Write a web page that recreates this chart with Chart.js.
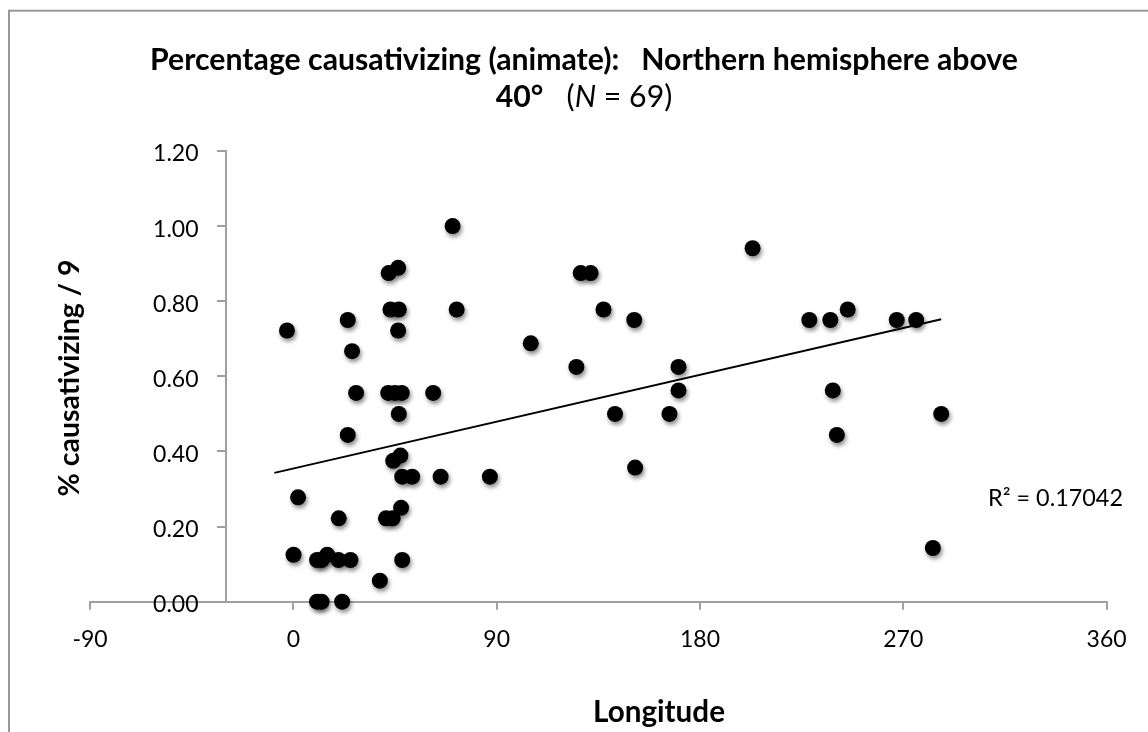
<!DOCTYPE html>
<html><head><meta charset="utf-8">
<script src="https://cdn.jsdelivr.net/npm/chart.js@4.4.0/dist/chart.umd.min.js"></script>
<style>html,body{margin:0;padding:0;background:#fff}#wrap{width:1148px;height:732px;position:relative}</style>
</head><body><div id="wrap"><canvas id="c" width="1148" height="732"></canvas></div>
<script>
// ---- data ----
const longitude = [
  -2.8, 0.1, 2.1, 10.5, 12.5, 21.6, 10.5, 12.5, 15, 20, 25.3, 20.1, 24.1, 24.1, 26.0, 27.8,
  38.3, 41, 44, 47.7, 48.2, 44.2, 47.4, 48.2, 52.6, 46.7, 42, 45, 48, 46.4, 43, 46.7,
  42.2, 46.4, 61.9, 65.2, 72.3, 70.5, 87, 105.1, 125.3, 127.2, 131.6, 137.3, 142.4, 150.9,
  151.3, 166.5, 170.5, 170.5, 203.3, 228.4, 237.7, 238.8, 240.6, 245.4, 267.1, 275.7, 283.1, 286.8
];
const pctCausativizing = [
  0.722, 0.125, 0.278, 0, 0, 0, 0.111, 0.111, 0.125, 0.111, 0.111, 0.222, 0.444, 0.75, 0.667, 0.556,
  0.056, 0.222, 0.222, 0.25, 0.111, 0.375, 0.389, 0.333, 0.333, 0.5, 0.556, 0.556, 0.556, 0.722, 0.778, 0.778,
  0.875, 0.889, 0.556, 0.333, 0.778, 1.0, 0.333, 0.688, 0.625, 0.875, 0.875, 0.778, 0.5, 0.75,
  0.357, 0.5, 0.625, 0.5625, 0.941, 0.75, 0.75, 0.5625, 0.444, 0.778, 0.75, 0.75, 0.143, 0.5
];
const trendX = [-8.4, 286.8];
const trendY = [0.343, 0.752];
const xTickValues = [-90, 0, 90, 180, 270, 360];
const yTickValues = [0, 0.2, 0.4, 0.6, 0.8, 1.0, 1.2];
const yAxisCrossesAt = -30;
const titleLine1 = "Percentage causativizing (animate):   Northern hemisphere above";
const titleLine2Bold = "40°";
const titleLine2Rest = ["   (", "N", " = 69)"];
const xAxisTitle = "Longitude";
const yAxisTitle = "% causativizing / 9";
const rSquaredLabel = "R² = 0.17042";

const FONT = "Lato, 'Open Sans', sans-serif";
const AXIS_GRAY = '#a0a0a0';
const TICK_FONT_SIZE = 23;

function fitFont(ctx, text, weight, style, target) {
  ctx.font = `${style} ${weight} 20px ${FONT}`;
  const w = ctx.measureText(text).width;
  return 20 * target / w;
}

const deco = {
  id: 'deco',
  beforeDraw(chart) {
    const ctx = chart.ctx;
    ctx.save();
    ctx.fillStyle = '#fff';
    ctx.fillRect(0, 0, chart.width, chart.height);
    ctx.strokeStyle = '#999';
    ctx.lineWidth = 2;
    ctx.strokeRect(9, 10.7, chart.width + 40, chart.height + 40);
    ctx.restore();
  },
  beforeDatasetDraw(chart, args) {
    if (args.index === 1) {
      const ctx = chart.ctx;
      ctx.save();
      ctx.shadowColor = 'rgba(0,0,0,0.45)';
      ctx.shadowBlur = 4;
      ctx.shadowOffsetX = 1.5;
      ctx.shadowOffsetY = 3;
    }
  },
  afterDatasetDraw(chart, args) {
    if (args.index === 1) chart.ctx.restore();
  },
  afterDraw(chart) {
    const ctx = chart.ctx;
    ctx.save();
    ctx.fillStyle = '#000';
    ctx.textBaseline = 'middle';
    // y tick labels (axis crosses inside the plot, so labels are placed beside the crossing line)
    const ys = chart.scales.y, xs = chart.scales.x;
    const axisX = xs.getPixelForValue(yAxisCrossesAt);
    ctx.font = `normal ${TICK_FONT_SIZE}px ${FONT}`;
    ctx.textAlign = 'right';
    yTickValues.forEach(v => {
      ctx.fillText(v.toFixed(2), axisX - 27, ys.getPixelForValue(v) + 3);
    });
    // title line 1
    const cx = 584;
    const s1 = fitFont(ctx, titleLine1, 'bold', 'normal', 868);
    ctx.font = `bold ${s1}px ${FONT}`;
    ctx.textAlign = 'center';
    ctx.fillText(titleLine1, cx, 60);
    // title line 2 (mixed)
    const parts = [
      {t: titleLine2Bold, f: `normal bold ${s1}px ${FONT}`},
      {t: titleLine2Rest[0], f: `normal normal ${s1}px ${FONT}`},
      {t: titleLine2Rest[1], f: `italic normal ${s1}px ${FONT}`},
      {t: titleLine2Rest[2], f: `normal normal ${s1}px ${FONT}`}
    ];
    let total = 0;
    parts.forEach(p => { ctx.font = p.f; p.w = ctx.measureText(p.t).width; total += p.w; });
    let x = cx - total / 2;
    ctx.textAlign = 'left';
    parts.forEach(p => { ctx.font = p.f; ctx.fillText(p.t, x, 97); x += p.w; });
    // x axis title
    const sx = fitFont(ctx, xAxisTitle, 'bold', 'normal', 132);
    ctx.font = `bold ${sx}px ${FONT}`;
    ctx.textAlign = 'center';
    ctx.fillText(xAxisTitle, 659, 712);
    // y axis title
    const sy = fitFont(ctx, yAxisTitle, 'bold', 'normal', 237);
    ctx.save();
    ctx.translate(70, 378);
    ctx.rotate(-Math.PI / 2);
    ctx.font = `bold ${sy}px ${FONT}`;
    ctx.fillText(yAxisTitle, 0, 0);
    ctx.restore();
    // R squared label
    const sr = fitFont(ctx, rSquaredLabel, 'normal', 'normal', 135);
    ctx.font = `normal ${sr}px ${FONT}`;
    ctx.textAlign = 'right';
    ctx.fillText(rSquaredLabel, 1123, 498);
    ctx.restore();
  }
};

const points = longitude.map((v, i) => ({x: v, y: pctCausativizing[i]}));
const trend = trendX.map((v, i) => ({x: v, y: trendY[i]}));

new Chart(document.getElementById('c'), {
  type: 'scatter',
  data: {
    datasets: [
      {
        type: 'line', data: trend, borderColor: '#000', borderWidth: 2,
        pointRadius: 0, fill: false, order: 0, clip: false
      },
      {
        data: points, backgroundColor: '#000', borderColor: '#000', borderWidth: 0,
        pointRadius: 8, pointHoverRadius: 8, order: 1, clip: false
      }
    ]
  },
  options: {
    responsive: false,
    devicePixelRatio: 1,
    animation: false,
    events: [],
    layout: {padding: {left: 90, right: 41.4, top: 151, bottom: 62.7}},
    plugins: {legend: {display: false}, tooltip: {enabled: false}, title: {display: false}},
    scales: {
      x: {
        type: 'linear', position: 'bottom', min: -90, max: 360,
        afterBuildTicks(scale) { scale.ticks = xTickValues.map(v => ({value: v})); },
        ticks: {color: '#000', font: {family: FONT, size: TICK_FONT_SIZE}, padding: 16, maxRotation: 0,
                callback: v => String(v)},
        grid: {drawOnChartArea: false, drawTicks: true, tickLength: 8, color: AXIS_GRAY, lineWidth: 2},
        border: {display: true, color: AXIS_GRAY, width: 2}
      },
      y: {
        type: 'linear', position: {x: yAxisCrossesAt}, min: 0, max: 1.2,
        afterBuildTicks(scale) { scale.ticks = yTickValues.map(v => ({value: v})); },
        ticks: {display: false},
        grid: {drawOnChartArea: false, drawTicks: true, tickLength: 8, color: AXIS_GRAY, lineWidth: 2},
        border: {display: true, color: AXIS_GRAY, width: 2}
      }
    }
  },
  plugins: [deco]
});
</script>
</body></html>
